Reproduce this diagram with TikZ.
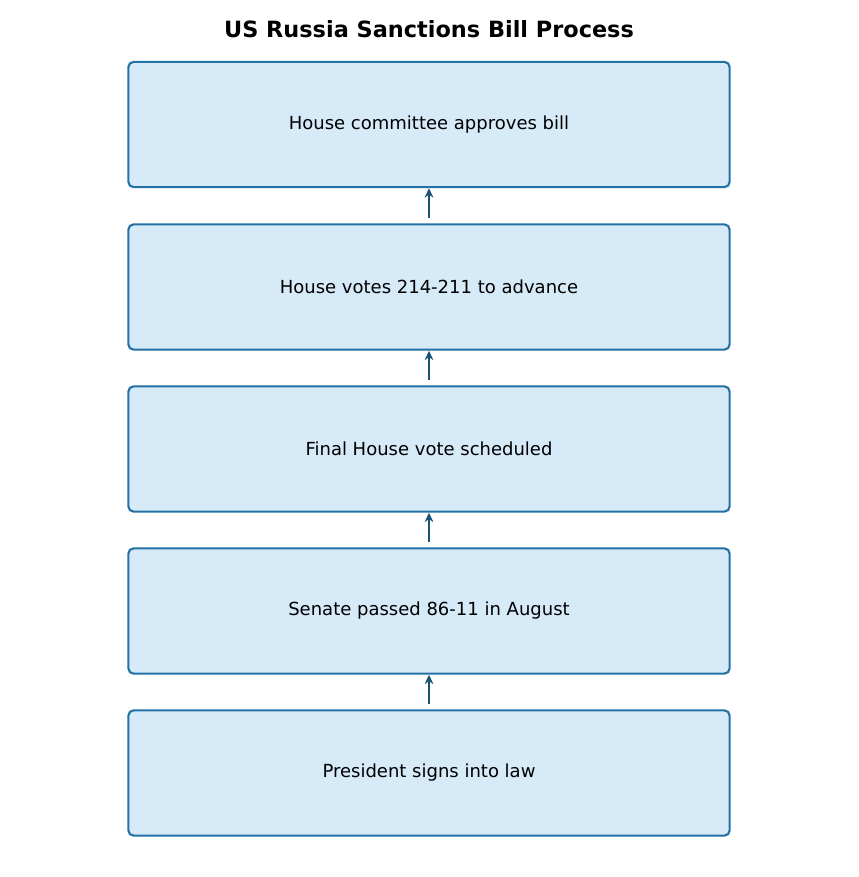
\documentclass[tikz,border=0pt]{standalone}
\usepackage{fontspec}
\setmainfont{DejaVu Sans}
\usetikzlibrary{arrows.meta}
\definecolor{boxfill}{HTML}{D6EAF8}
\definecolor{boxedge}{HTML}{2471A3}
\definecolor{arrowcol}{HTML}{1A5276}
\begin{document}
\begin{tikzpicture}[x=0.75pt, y=-0.75pt,
    stage/.style={draw=boxedge, fill=boxfill, line width=1.6pt, rounded corners=4pt,
        minimum width=451pt, minimum height=94pt, font=\fontsize{13.5}{16}\selectfont},
    flow/.style={-{Stealth[length=7pt, width=6.5pt]}, draw=arrowcol, line width=2pt, shorten >=0pt, shorten <=4pt}]
    \useasboundingbox (0,0) rectangle (858,877);

    \node[font=\fontsize{16.8}{20}\bfseries] (title) at (429,29) {US Russia Sanctions Bill Process};

    % Steps
    \node[stage] (s1) at (429,124.5) {House committee approves bill};
    \node[stage] (s2) at (429,287) {House votes 214-211 to advance};
    \node[stage] (s3) at (429,449) {Final House vote scheduled};
    \node[stage] (s4) at (429,611) {Senate passed 86-11 in August};
    \node[stage] (s5) at (429,773) {President signs into law};

    % Arrows
    \foreach \a/\b in {s2/s1, s3/s2, s4/s3, s5/s4}
        \draw[flow] (\a.north) -- (\b.south);
\end{tikzpicture}
\end{document}
